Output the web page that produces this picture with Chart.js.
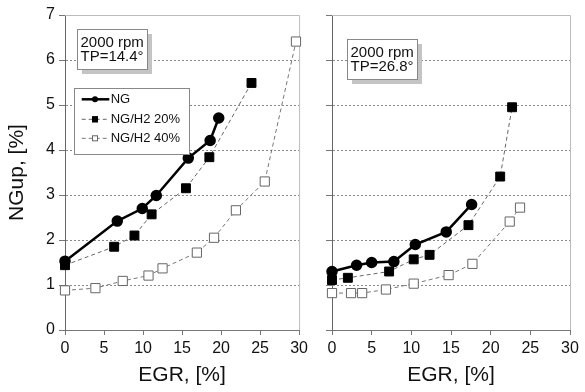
<!DOCTYPE html>
<html>
<head>
<meta charset="utf-8">
<script src="https://cdn.jsdelivr.net/npm/chart.js@4.4.1/dist/chart.umd.min.js"></script>
<style>
  body { margin: 0; background: #fff; }
  #wrap { position: relative; width: 585px; height: 392px; }
  canvas { position: absolute; top: 0; }
  #left { left: 0; }
  #right { left: 310px; }
</style>
</head>
<body>
<div id="wrap">
  <canvas id="left" width="312" height="392"></canvas>
  <canvas id="right" width="275" height="392"></canvas>
</div>
<script>
// axis ticks
const xTicks = [0, 5, 10, 15, 20, 25, 30];
const yTicks = [0, 1, 2, 3, 4, 5, 6, 7];
const seriesNames = ['NG', 'NG/H2 20%', 'NG/H2 40%'];

// TP = 14.4 deg
const ngEgrA  = [0, 6.7, 9.9, 11.7, 15.8, 18.6, 19.7];
const ngUpA   = [1.53, 2.42, 2.70, 2.99, 3.82, 4.21, 4.71];
const h20EgrA = [0, 6.3, 8.9, 11.1, 15.5, 18.5, 23.9];
const h20UpA  = [1.44, 1.85, 2.10, 2.57, 3.15, 3.84, 5.49];
const h40EgrA = [0, 3.9, 7.4, 10.7, 12.5, 16.9, 19.1, 21.9, 25.6, 29.6];
const h40UpA  = [0.88, 0.93, 1.09, 1.21, 1.37, 1.72, 2.05, 2.66, 3.30, 6.41];

// TP = 26.8 deg
const ngEgrB  = [0, 3.1, 5.0, 7.8, 10.5, 14.4, 17.6];
const ngUpB   = [1.30, 1.44, 1.50, 1.52, 1.90, 2.18, 2.79];
const h20EgrB = [0, 2.0, 7.2, 10.3, 12.3, 17.2, 21.2, 22.7];
const h20UpB  = [1.11, 1.16, 1.30, 1.57, 1.67, 2.33, 3.41, 4.95];
const h40EgrB = [0, 2.4, 3.8, 6.8, 10.3, 14.7, 17.7, 22.4, 23.7];
const h40UpB  = [0.82, 0.82, 0.82, 0.90, 1.03, 1.22, 1.47, 2.41, 2.72];

const boxTextA = ['2000 rpm', 'TP=14.4°'];
const boxTextB = ['2000 rpm', 'TP=26.8°'];

Chart.defaults.font.family = 'Arial, "Liberation Sans", sans-serif';
Chart.defaults.color = '#111';
Chart.defaults.plugins.legend.display = false;
Chart.defaults.plugins.tooltip.enabled = false;
Chart.defaults.animation = false;

const pts = (xs, ys) => xs.map((x, i) => ({x: x, y: ys[i]}));

const styles = [
  {borderColor: '#000', borderWidth: 2.5, pointStyle: 'circle', pointRadius: 4.5,
   pointBackgroundColor: '#000', pointBorderColor: '#000', borderDash: []},
  {borderColor: '#666', borderWidth: 1, pointStyle: 'rect', pointRadius: 6.3,
   pointBackgroundColor: '#000', pointBorderColor: '#000', borderDash: [4, 3]},
  {borderColor: '#777', borderWidth: 1, pointStyle: 'rect', pointRadius: 6.5,
   pointBackgroundColor: '#fff', pointBorderColor: '#666', pointBorderWidth: 1, borderDash: [4, 3]}
];

// light frame on top and right of the plot area
const framePlugin = {
  id: 'frame',
  beforeDatasetsDraw(chart) {
    const {ctx, chartArea: a} = chart;
    ctx.save();
    ctx.strokeStyle = '#bbb';
    ctx.lineWidth = 1;
    ctx.beginPath();
    ctx.moveTo(a.left, a.top + 0.5);
    ctx.lineTo(a.right + 0.5, a.top + 0.5);
    ctx.lineTo(a.right + 0.5, a.bottom);
    ctx.stroke();
    ctx.restore();
  }
};

function drawTextBox(ctx, x, y, lines) {
  const w = 70, h = 40;
  ctx.save();
  ctx.fillStyle = '#c4c4c4';
  ctx.fillRect(x + 5, y + 5, w, h);
  ctx.fillStyle = '#fff';
  ctx.fillRect(x, y, w, h);
  ctx.strokeStyle = '#888';
  ctx.lineWidth = 1;
  ctx.strokeRect(x + 0.5, y + 0.5, w, h);
  ctx.fillStyle = '#111';
  ctx.font = '15px Arial, "Liberation Sans", sans-serif';
  ctx.textBaseline = 'alphabetic';
  ctx.fillText(lines[0], x + 3.5, y + 17.5);
  ctx.fillText(lines[1], x + 3.5, y + 32);
  ctx.restore();
}

function drawLegendBox(ctx, chart) {
  const x = 74, y = 88, w = 115, h = 66;
  ctx.save();
  ctx.fillStyle = '#fff';
  ctx.fillRect(x, y, w, h);
  ctx.strokeStyle = '#888';
  ctx.lineWidth = 1;
  ctx.strokeRect(x + 0.5, y + 0.5, w, h);
  const rows = [11.3, 31.3, 50.3];
  chart.data.datasets.forEach((ds, i) => {
    const cy = y + rows[i];
    ctx.strokeStyle = ds.borderColor;
    ctx.lineWidth = ds.borderWidth;
    ctx.setLineDash(ds.borderDash);
    ctx.beginPath();
    ctx.moveTo(81.7, cy);
    ctx.lineTo(109.3, cy);
    ctx.stroke();
    ctx.setLineDash([]);
    ctx.fillStyle = ds.pointBackgroundColor;
    ctx.strokeStyle = ds.pointBorderColor;
    ctx.lineWidth = 1;
    if (i === 0) {
      ctx.beginPath();
      ctx.arc(95, cy, 3, 0, Math.PI * 2);
      ctx.fill();
    } else {
      ctx.fillRect(92, cy - 3, 6, 6);
      ctx.strokeRect(92.5, cy - 2.5, 5, 5);
    }
    ctx.fillStyle = '#111';
    ctx.font = '13px Arial, "Liberation Sans", sans-serif';
    ctx.textBaseline = 'middle';
    ctx.fillText(seriesNames[i], 110.7, cy + 0.5);
  });
  ctx.restore();
}

function makePanel(id, data, boxText, boxPos, isLeft) {
  const datasets = data.map((d, i) => Object.assign({
    label: seriesNames[i],
    data: pts(d[0], d[1]),
    showLine: true,
    fill: false,
    clip: false,
    tension: 0
  }, styles[i]));

  const overlay = {
    id: 'overlay',
    afterDatasetsDraw(chart) {
      drawTextBox(chart.ctx, boxPos[0], boxPos[1], boxText);
      if (isLeft) drawLegendBox(chart.ctx, chart);
    }
  };

  return new Chart(id, {
    type: 'scatter',
    data: {datasets: datasets},
    plugins: [framePlugin, overlay],
    options: {
      responsive: false,
      layout: {padding: {top: 15, right: isLeft ? 10 : 15, left: 0, bottom: 0}},
      scales: {
        x: {
          type: 'linear', min: 0, max: 30,
          afterBuildTicks: s => { s.ticks = xTicks.map(v => ({value: v})); },
          afterFit: s => { s.height = 62; },
          ticks: {font: {size: 16}, color: '#111', padding: 4},
          grid: {drawOnChartArea: false, drawTicks: true, tickLength: 5, tickColor: '#777'},
          border: {color: '#777', width: 1},
          title: {display: true, text: 'EGR, [%]', font: {size: 21}, color: '#111', padding: {top: 0, bottom: 4}}
        },
        y: {
          type: 'linear', min: 0, max: 7,
          afterBuildTicks: s => { s.ticks = yTicks.map(v => ({value: v})); },
          afterFit: s => { s.width = isLeft ? 65 : 22; },
          ticks: {display: isLeft, font: {size: 16}, color: '#111', padding: 4},
          grid: {
            color: c => (c.tick && (c.tick.value === 0 || c.tick.value === 7)) ? 'rgba(0,0,0,0)' : '#8a8a8a',
            lineWidth: 1,
            drawTicks: true, tickLength: 6, tickColor: '#777'
          },
          border: {color: '#666', width: 1, dash: [2, 2]},
          title: {display: isLeft, text: 'NGup, [%]', font: {size: 21}, color: '#111', padding: {top: 5, bottom: 0}}
        }
      }
    }
  });
}

makePanel('left',
  [[ngEgrA, ngUpA], [h20EgrA, h20UpA], [h40EgrA, h40UpA]],
  boxTextA, [77, 29], true);

makePanel('right',
  [[ngEgrB, ngUpB], [h20EgrB, h20UpB], [h40EgrB, h40UpB]],
  boxTextB, [37, 39], false);
</script>
</body>
</html>
